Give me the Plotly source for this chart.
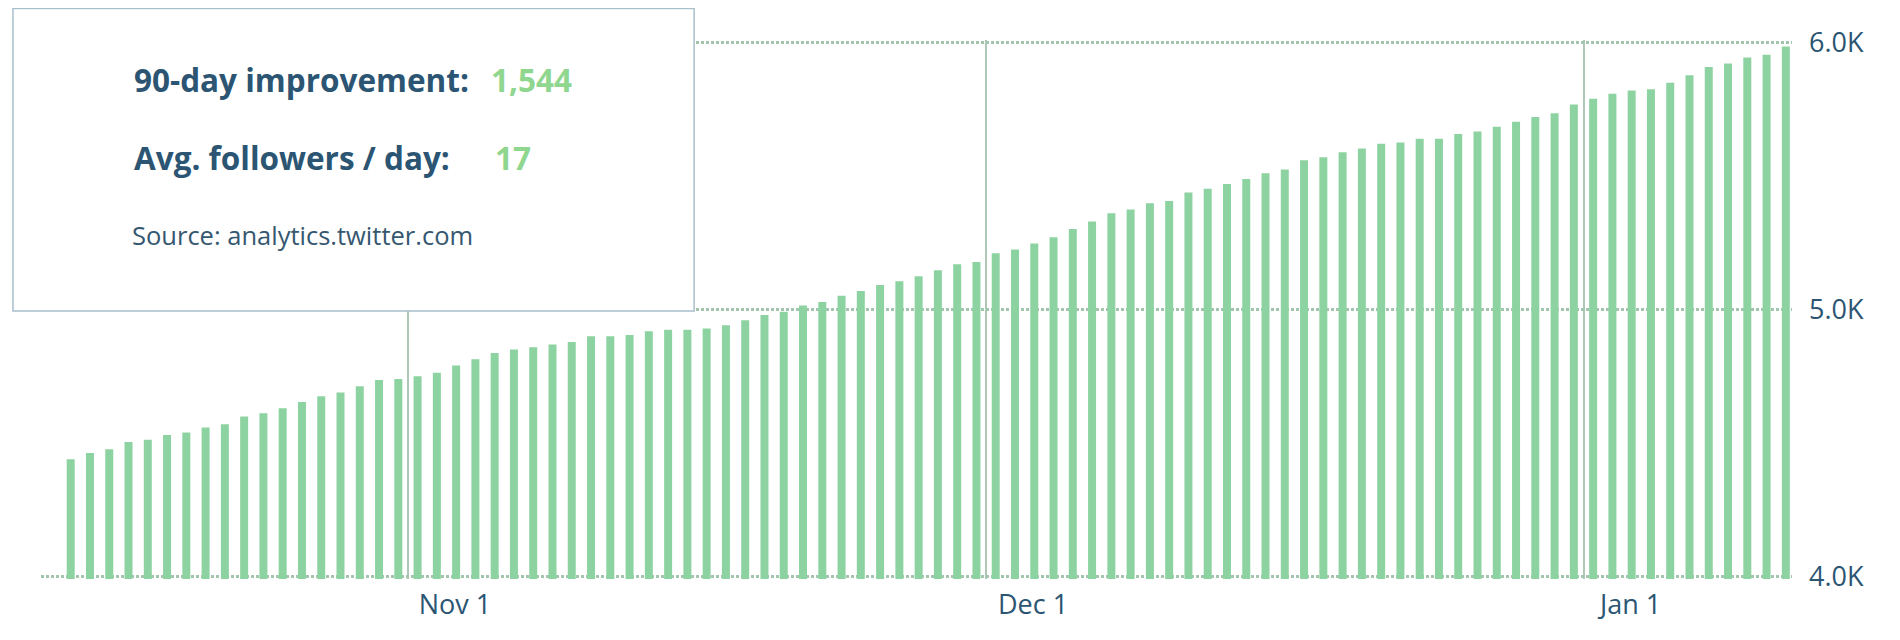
import pandas as pd
import plotly.graph_objects as go

# Followers per day, 90 days (Oct 14 -> Jan 11)
start_date = "2014-10-14"
followers = [
    4440, 4463, 4477, 4504, 4513, 4531, 4540, 4559, 4571, 4600,
    4612, 4631, 4654, 4676, 4690, 4713, 4736, 4740, 4750, 4763,
    4791, 4814, 4837, 4850, 4859, 4869, 4878, 4900, 4900, 4905,
    4919, 4924, 4924, 4929, 4941, 4960, 4979, 4992, 5015, 5028,
    5051, 5069, 5092, 5106, 5124, 5147, 5169, 5178, 5210, 5224,
    5247, 5270, 5301, 5329, 5360, 5374, 5397, 5406, 5438, 5452,
    5469, 5488, 5510, 5524, 5558, 5569, 5588, 5602, 5620, 5625,
    5639, 5639, 5656, 5666, 5684, 5702, 5720, 5734, 5767, 5788,
    5807, 5819, 5824, 5848, 5876, 5907, 5920, 5943, 5953, 5984,
]
days = pd.date_range(start_date, periods=len(followers), freq="D")

# month boundaries (lines sit between the last day and the 1st)
month_ticks = ["2014-10-31 12:00", "2014-11-30 12:00", "2014-12-31 12:00"]
month_labels = ["Nov 1", "Dec 1", "Jan 1"]

y_ticks = [4000, 5000, 6000]
y_labels = ["4.0K", "5.0K", "6.0K"]

improvement = "1,544"
per_day = "17"

INK = "#2b5572"
GREEN = "#8fd68f"
BAR = "#8dd3a2"

fig = go.Figure()
fig.add_bar(x=days, y=followers, marker_color=BAR, marker_line_width=0,
            hovertemplate="%{x|%b %d}: %{y:,}<extra></extra>")

# the page body has an 8px margin, so the figure is 8px smaller than the window.
# y range is padded a little so plotly still draws the 4.0K / 6.0K grid lines
fig.update_layout(
    width=1892, height=632,
    margin=dict(l=33, r=108, t=32, b=61),
    paper_bgcolor="white", plot_bgcolor="white",
    showlegend=False, bargap=0.585,
    font=dict(family="Open Sans", color=INK),
    xaxis=dict(
        type="date",
        range=["2014-10-12 11:00", "2015-01-11 07:40"],
        tickmode="array", tickvals=month_ticks, ticktext=month_labels,
        showgrid=True, gridcolor="#aec7b6", gridwidth=2,
        zeroline=False, showline=False, ticks="",
        tickfont=dict(size=27, color=INK),
        ticklabelshift=47, ticklabelstandoff=7,
    ),
    yaxis=dict(
        side="right", range=[3992, 6008],
        tickmode="array", tickvals=y_ticks, ticktext=y_labels,
        showgrid=True, gridcolor="#a3c5ae", gridwidth=3, griddash="3px,2px",
        zeroline=False, showline=False, ticks="",
        tickfont=dict(size=27, color=INK),
        ticklabelstandoff=16,
    ),
)

# white info box over the top-left corner
fig.add_shape(type="rect", xref="paper", yref="paper",
              x0=-0.016, x1=0.373, y0=0.4972, y1=1.0584,
              fillcolor="white", line=dict(color="#a9bfcb", width=1.5),
              layer="above")

rows = [
    (0.9258, "90-day improvement:", 0.2556, improvement),
    (0.7820, "Avg. followers / day:", 0.2579, per_day),
]
for y, label, xv, val in rows:
    fig.add_annotation(xref="paper", yref="paper", x=0.0517, y=y,
                       xanchor="left", yanchor="middle", showarrow=False,
                       text=label, font=dict(size=31.5, color=INK, weight=700))
    fig.add_annotation(xref="paper", yref="paper", x=xv, y=y,
                       xanchor="left", yanchor="middle", showarrow=False,
                       text=val, font=dict(size=31.5, color=GREEN, weight=700))

fig.add_annotation(xref="paper", yref="paper", x=0.0510, y=0.6391,
                   xanchor="left", yanchor="middle", showarrow=False,
                   text="Source: analytics.twitter.com",
                   font=dict(size=25.5, color="#35576f"))

fig.write_html("out.html")
